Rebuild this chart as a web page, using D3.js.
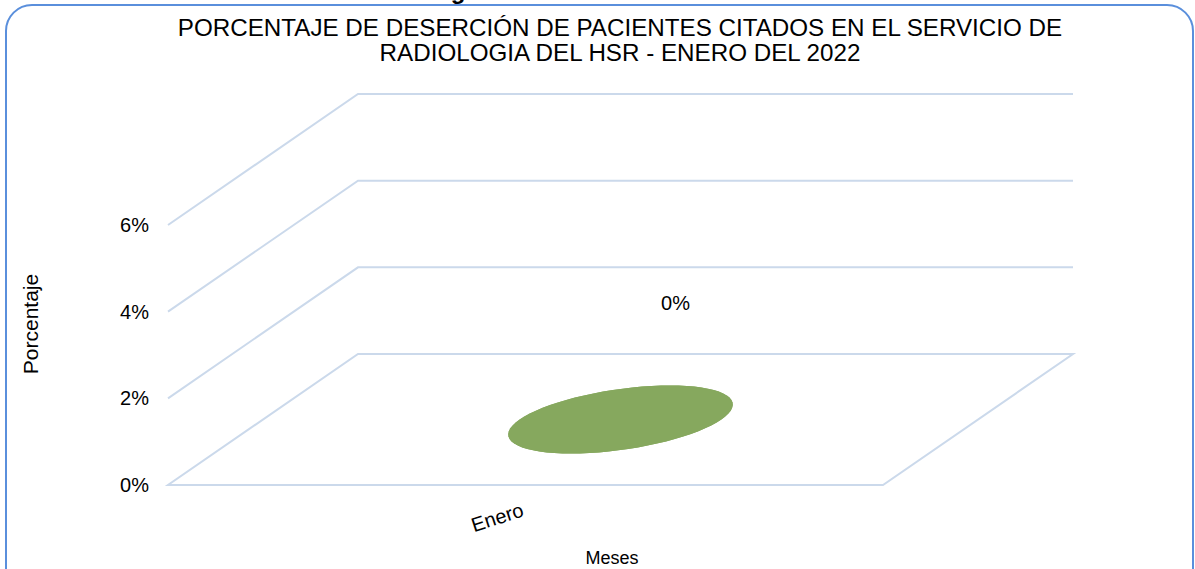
<!DOCTYPE html>
<html>
<head>
<meta charset="utf-8">
<script src="https://cdn.jsdelivr.net/npm/d3@7"></script>
<style>
  body { margin: 0; background: #fff; }
  text { font-family: "Liberation Sans", Arial, sans-serif; fill: #000; }
</style>
</head>
<body>
<div id="chart"></div>
<script>
// data
var categories = ["Enero"];
var values = [0];
var yTicks = [0, 0.02, 0.04, 0.06];
var titleLines = ["PORCENTAJE DE DESERCIÓN DE PACIENTES CITADOS EN EL SERVICIO DE",
                  "RADIOLOGIA DEL HSR - ENERO DEL 2022"];

var W = 1195, H = 569;
var plot = {left: 168, right: 883, bottom: 485, top: 225};
var depth = {dx: 190, dy: -131};   // oblique offset of the back wall

var svg = d3.select("#chart").append("svg")
    .attr("width", W).attr("height", H);

// outer rounded frame (bottom runs off the picture)
svg.append("rect")
    .attr("x", 6).attr("y", 5)
    .attr("width", 1187).attr("height", 620)
    .attr("rx", 26).attr("ry", 26)
    .style("fill", "none").style("stroke", "#5a8fdc").style("stroke-width", 2);

// cut-off heading above the frame
svg.append("text").attr("x", 458).attr("y", -1)
    .style("font-size", "24px").style("font-weight", "bold")
    .style("text-anchor", "middle").text("g");

var x = d3.scaleBand().domain(categories)
    .range([plot.left, plot.right]).padding(0.56);
var y = d3.scaleLinear().domain([0, 0.06]).range([plot.bottom, plot.top]);

//project a point of the floor/wall: z is the depth fraction 0..1
function proj(px, py, z) {
    return [px + z * depth.dx, py + z * depth.dy];
}

var gridColor = "#cbd9eb";
var grid = svg.append("g").attr("class", "grid")
    .style("fill", "none").style("stroke", gridColor).style("stroke-width", 2);

// floor outline
var floor = [proj(plot.left, y(0), 0), proj(plot.right, y(0), 0),
             proj(plot.right, y(0), 1), proj(plot.left, y(0), 1)];
grid.append("path").attr("d", d3.line().curve(d3.curveLinearClosed)(floor));

// side wall + back wall gridlines
grid.selectAll(".gl")
    .data(yTicks.filter(function(t) { return t > 0; }))
    .enter().append("path")
    .attr("class", "gl")
    .attr("d", function(t) {
        return d3.line()([proj(plot.left, y(t), 0), proj(plot.left, y(t), 1), proj(plot.right, y(t), 1)]);
    });

// y axis labels
var yAxis = d3.axisLeft(y).tickValues(yTicks).tickFormat(d3.format(".0%"))
    .tickSize(0).tickPadding(10);
var ya = svg.append("g").attr("transform", "translate(" + (plot.left - 9) + ",0)").call(yAxis);
ya.select(".domain").remove();
ya.selectAll("text").style("font-size", "20px")
    .style("font-family", "'Liberation Sans', Arial, sans-serif").attr("fill", "#000");

// cylinders
var colDepth = 0.52, colColor = "#86a85e";
function ellipse(cx, py, a, b) {
    var pts = d3.range(0, 72).map(function(i) {
        var t = i / 72 * 2 * Math.PI;
        var p = proj(cx + a * Math.cos(t), py, 0.5 + b * Math.sin(t));
        return p;
    });
    return d3.line().curve(d3.curveLinearClosed)(pts);
}

var cols = svg.selectAll(".col").data(values).enter().append("g").attr("class", "col");
cols.each(function(v, i) {
    var g = d3.select(this);
    var cx = x(categories[i]) + x.bandwidth() / 2,
        a = x.bandwidth() / 2, b = colDepth / 2;
    // silhouette of the body between the tangent points
    var t0 = Math.atan2(b * depth.dx, a);
    var l = proj(cx - a * Math.cos(t0), 0, 0.5 - b * Math.sin(t0)),
        r = proj(cx + a * Math.cos(t0), 0, 0.5 + b * Math.sin(t0));
    g.append("path")
        .attr("d", d3.line()([[l[0], l[1] + y(0)], [r[0], r[1] + y(0)],
                              [r[0], r[1] + y(v)], [l[0], l[1] + y(v)]]))
        .style("fill", colColor);
    g.append("path").attr("d", ellipse(cx, y(0), a, b)).style("fill", colColor);
    g.append("path").attr("d", ellipse(cx, y(v), a, b)).style("fill", colColor);
});

// data label
svg.selectAll(".dlabel").data(values).enter().append("text")
    .attr("class", "dlabel")
    .attr("x", function(d, i) { return x(categories[i]) + x.bandwidth() / 2 + 150; })
    .attr("y", function(d) { return y(d) - 175; })
    .style("text-anchor", "middle").style("font-size", "20px")
    .text(d3.format(".0%"));

// category labels, tilted like the 3D floor
svg.selectAll(".xlabel").data(categories).enter().append("text")
    .attr("class", "xlabel")
    .attr("transform", function(d) {
        return "translate(" + (x(d) + x.bandwidth() / 2 - 26) + "," + (plot.bottom + 39) + ") rotate(-18)";
    })
    .style("text-anchor", "middle").style("font-size", "20px")
    .text(function(d) { return d; });

// titles
svg.selectAll(".title").data(titleLines).enter().append("text")
    .attr("class", "title")
    .attr("x", 620).attr("y", function(d, i) { return 36 + i * 25; })
    .style("text-anchor", "middle").style("font-size", "24.2px")
    .text(function(d) { return d; });

svg.append("text").attr("x", 612).attr("y", 564)
    .style("text-anchor", "middle").style("font-size", "18px").text("Meses");

svg.append("text")
    .attr("transform", "translate(38,324) rotate(-90)")
    .style("text-anchor", "middle").style("font-size", "21px").text("Porcentaje");
</script>
</body>
</html>
